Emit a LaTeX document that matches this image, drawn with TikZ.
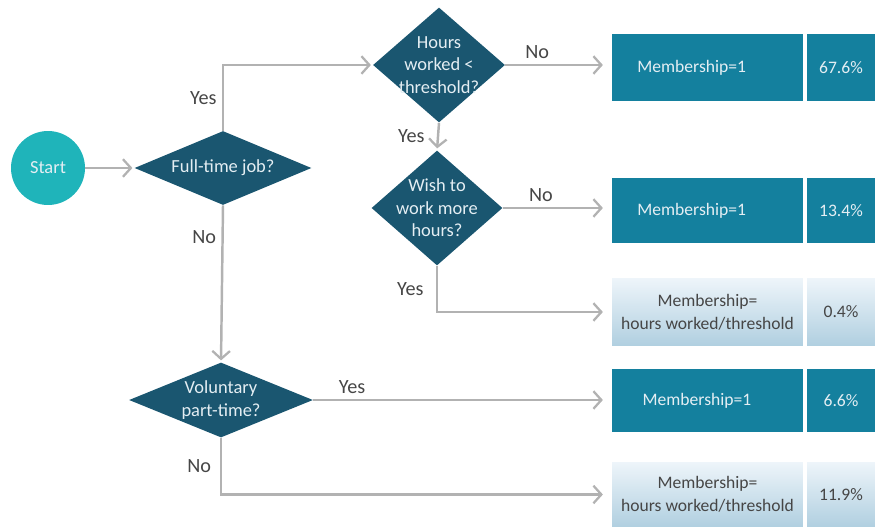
\documentclass[tikz,border=0pt]{standalone}
\usepackage{fontspec}
\setmainfont{Carlito}
\usetikzlibrary{positioning, shapes.geometric, arrows.meta}

\definecolor{startc}{RGB}{31,180,186}
\definecolor{decc}{RGB}{26,86,112}
\definecolor{boxc}{RGB}{20,128,158}
\definecolor{lighttop}{RGB}{238,245,250}
\definecolor{lightbot}{RGB}{176,207,224}
\definecolor{inkc}{RGB}{228,238,243}
\definecolor{lblc}{RGB}{70,70,70}
\definecolor{linec}{RGB}{178,178,178}

\begin{document}
\begin{tikzpicture}[
    x=0.02cm, y=-0.02cm,
    startnode/.style={
        circle, fill=startc, text=inkc,
        minimum size=1.48cm, inner sep=0pt,
        font=\fontsize{10.5}{12.8}\selectfont},
    decision/.style={
        diamond, fill=decc, text=inkc, align=center,
        inner sep=-4pt, font=\fontsize{10.5}{12.8}\selectfont},
    result/.style={
        rectangle, fill=boxc, text=inkc, align=center,
        minimum width=3.82cm, inner sep=0pt,
        font=\fontsize{10}{13}\selectfont},
    share/.style={
        result, minimum width=1.36cm},
    partial/.style={
        rectangle, top color=lighttop, bottom color=lightbot,
        text=lblc, align=center,
        minimum width=3.82cm, inner sep=0pt,
        font=\fontsize{10}{13}\selectfont},
    partshare/.style={
        partial, minimum width=1.36cm},
    lbl/.style={
        text=lblc, font=\fontsize{11.5}{13}\selectfont, inner sep=3pt},
    arr/.style={
        -{Straight Barb[length=4.5pt, width=10pt, line width=1.3pt]},
        draw=linec, line width=1.4pt, shorten >=1pt},
    arrbox/.style={arr, shorten >=5pt}
]
\useasboundingbox (0,0) rectangle (875,527);

%% ── Start and first question ────────────────────────────────────
\node[startnode] (start) at (48,168) {Start};
\node[decision, aspect=2.4, inner sep=0pt,
      minimum width=3.54cm, minimum height=1.48cm]
    (fulltime) at (223,168) {Full-time job?};

%% ── Full-time branch ────────────────────────────────────────────
\node[decision, aspect=1.15, minimum width=2.64cm, minimum height=2.3cm]
    (hours) at (439,65) {Hours\\worked <\\threshold?};
\node[decision, aspect=1.15, minimum width=2.62cm, minimum height=2.3cm]
    (wish) at (437,208) {Wish to\\work more\\hours?};

%% ── Part-time question ──────────────────────────────────────────
\node[decision, aspect=2.45, inner sep=-3pt,
      minimum width=3.68cm, minimum height=1.5cm]
    (voluntary) at (221,400) {Voluntary\\part-time?};

%% ── Outcomes ────────────────────────────────────────────────────
\node[result, minimum height=1.34cm] (res1) at (707.5,67.5) {Membership=1\hspace*{18pt}};
\node[share,  minimum height=1.34cm] (pct1) at (841,67.5) {67.6\%};

\node[result, minimum height=1.3cm] (res2) at (707.5,210.5) {Membership=1\hspace*{18pt}};
\node[share,  minimum height=1.3cm] (pct2) at (841,210.5) {13.4\%};

\node[partial,   minimum height=1.36cm] (res3) at (707.5,312)
    {Membership=\\hours worked/threshold};
\node[partshare, minimum height=1.36cm] (pct3) at (841,312) {0.4\%};

\node[result, minimum height=1.26cm] (res4) at (707.5,400.5) {Membership=1\hspace*{12pt}};
\node[share,  minimum height=1.26cm] (pct4) at (841,400.5) {6.6\%};

\node[partial,   minimum height=1.3cm] (res5) at (707.5,494.5)
    {Membership=\\hours worked/threshold};
\node[partshare, minimum height=1.3cm] (pct5) at (841,494.5) {11.9\%};

%% ── Connectors ──────────────────────────────────────────────────
\draw[arr] (start) -- (fulltime);

\draw[arr] (fulltime.north) |- node[lbl, pos=0.25, left] {Yes} (hours.west);
\draw[arrbox] (hours.east) -- node[lbl, pos=0.3, above] {No}
    (hours.east -| res1.west);
\draw[arr] (hours.south) -- node[lbl, left, xshift=-4pt] {Yes} (wish.north);
\draw[arrbox] (wish.east) -- node[lbl, pos=0.35, above] {No}
    (wish.east -| res2.west);
\draw[arrbox] (wish.south) |- node[lbl, pos=0.25, left, xshift=-4pt] {Yes} (res3.west);

\draw[arr] (fulltime.south) -- node[lbl, pos=0.2, left] {No} (voluntary.north);
\draw[arrbox] (voluntary.east) -- node[lbl, pos=0.13, above] {Yes}
    (voluntary.east -| res4.west);
\draw[arrbox] (voluntary.south) |- node[lbl, pos=0.25, left, xshift=-2pt] {No} (res5.west);

\end{tikzpicture}
\end{document}
